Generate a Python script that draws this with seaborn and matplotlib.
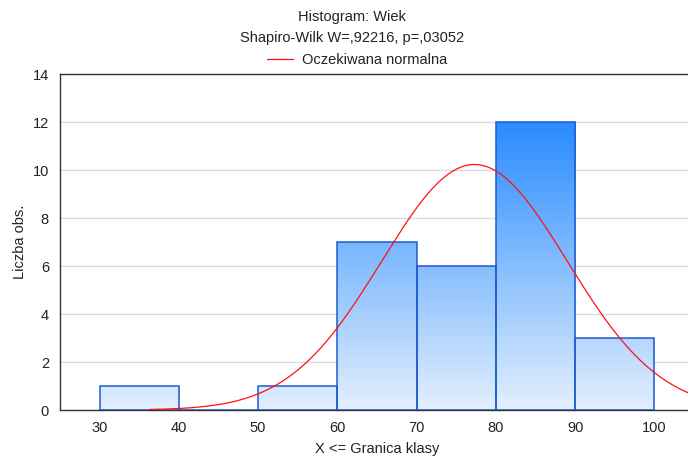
import numpy as np
import pandas as pd
import matplotlib
matplotlib.use("Agg")
import matplotlib.pyplot as plt
import seaborn as sns
from matplotlib.colors import LinearSegmentedColormap

# Data
bin_edges = [30, 40, 50, 60, 70, 80, 90, 100]
counts = [1, 0, 1, 7, 6, 12, 3]
norm_mean = 77.3
norm_sd = 11.7
n_obs = sum(counts)
x_ticks = [30, 40, 50, 60, 70, 80, 90, 100]
y_ticks = [0, 2, 4, 6, 8, 10, 12, 14]

sns.set_style("white")
plt.rcParams['font.family'] = ['Liberation Sans', 'DejaVu Sans']
FS = 10.5

fig = plt.figure(figsize=(6.88, 4.57), dpi=100)
ax = fig.add_axes([60/688, (457-410)/457, (694-60)/688, (410-74)/457])

mids = [(a + b) / 2 for a, b in zip(bin_edges[:-1], bin_edges[1:])]
df = pd.DataFrame({"x": mids, "w": counts})
sns.histplot(data=df, x="x", weights="w", bins=bin_edges, ax=ax,
             stat="count", facecolor="none", edgecolor="#1f5bd0",
             linewidth=1.1, alpha=1, zorder=3)

cmap = LinearSegmentedColormap.from_list("g", ["#e3effd", "#2a8cff"])
ymax_grad = 12.0
for p in ax.patches:
    x0 = p.get_x(); w = p.get_width(); h = p.get_height()
    if h <= 0:
        continue
    ys = np.linspace(0, h, 200)[:, None] / ymax_grad
    im = ax.imshow(ys, cmap=cmap, vmin=0, vmax=1, origin="lower",
                   extent=[x0, x0 + w, 0, h], aspect="auto", zorder=2,
                   interpolation="bilinear")
    im.set_clip_path(p)

# expected normal
xs = np.linspace(36.3, 106, 300)
ys = n_obs * 10 * np.exp(-0.5 * ((xs - norm_mean) / norm_sd) ** 2) / (norm_sd * np.sqrt(2 * np.pi))
sns.lineplot(x=xs, y=ys, ax=ax, color="#ff1010", linewidth=0.9, zorder=4,
             label="Oczekiwana normalna")

ax.set_xlim(25, 105)
ax.set_ylim(0, 14)
ax.set_xticks(x_ticks)
ax.set_yticks(y_ticks)
ax.tick_params(axis="both", labelsize=FS, colors="#222222", length=0, pad=8)
ax.yaxis.grid(True, color="#dcdcdc", linewidth=1, zorder=0)
ax.xaxis.grid(False)
ax.set_axisbelow(True)
for s in ["left", "bottom", "top"]:
    ax.spines[s].set_color("#333333")
    ax.spines[s].set_linewidth(1.0)
ax.spines["right"].set_visible(False)

ax.set_xlabel("X <= Granica klasy", fontsize=FS, color="#222222", labelpad=5)
ax.set_ylabel("Liczba obs.", fontsize=FS, color="#222222", labelpad=4)

fig.text(352/688, 1 - 17/457, "Histogram: Wiek", ha="center", va="center", fontsize=FS, color="#222222")
fig.text(352/688, 1 - 38/457, "Shapiro-Wilk W=,92216, p=,03052", ha="center", va="center", fontsize=FS, color="#222222")
leg = ax.legend(loc="lower center", bbox_to_anchor=(0.468, 0.995), frameon=False,
                fontsize=FS, handlelength=1.8, borderaxespad=0.2, handletextpad=0.6)
for t in leg.get_texts():
    t.set_color("#222222")

fig.savefig("out.png", dpi=100)
